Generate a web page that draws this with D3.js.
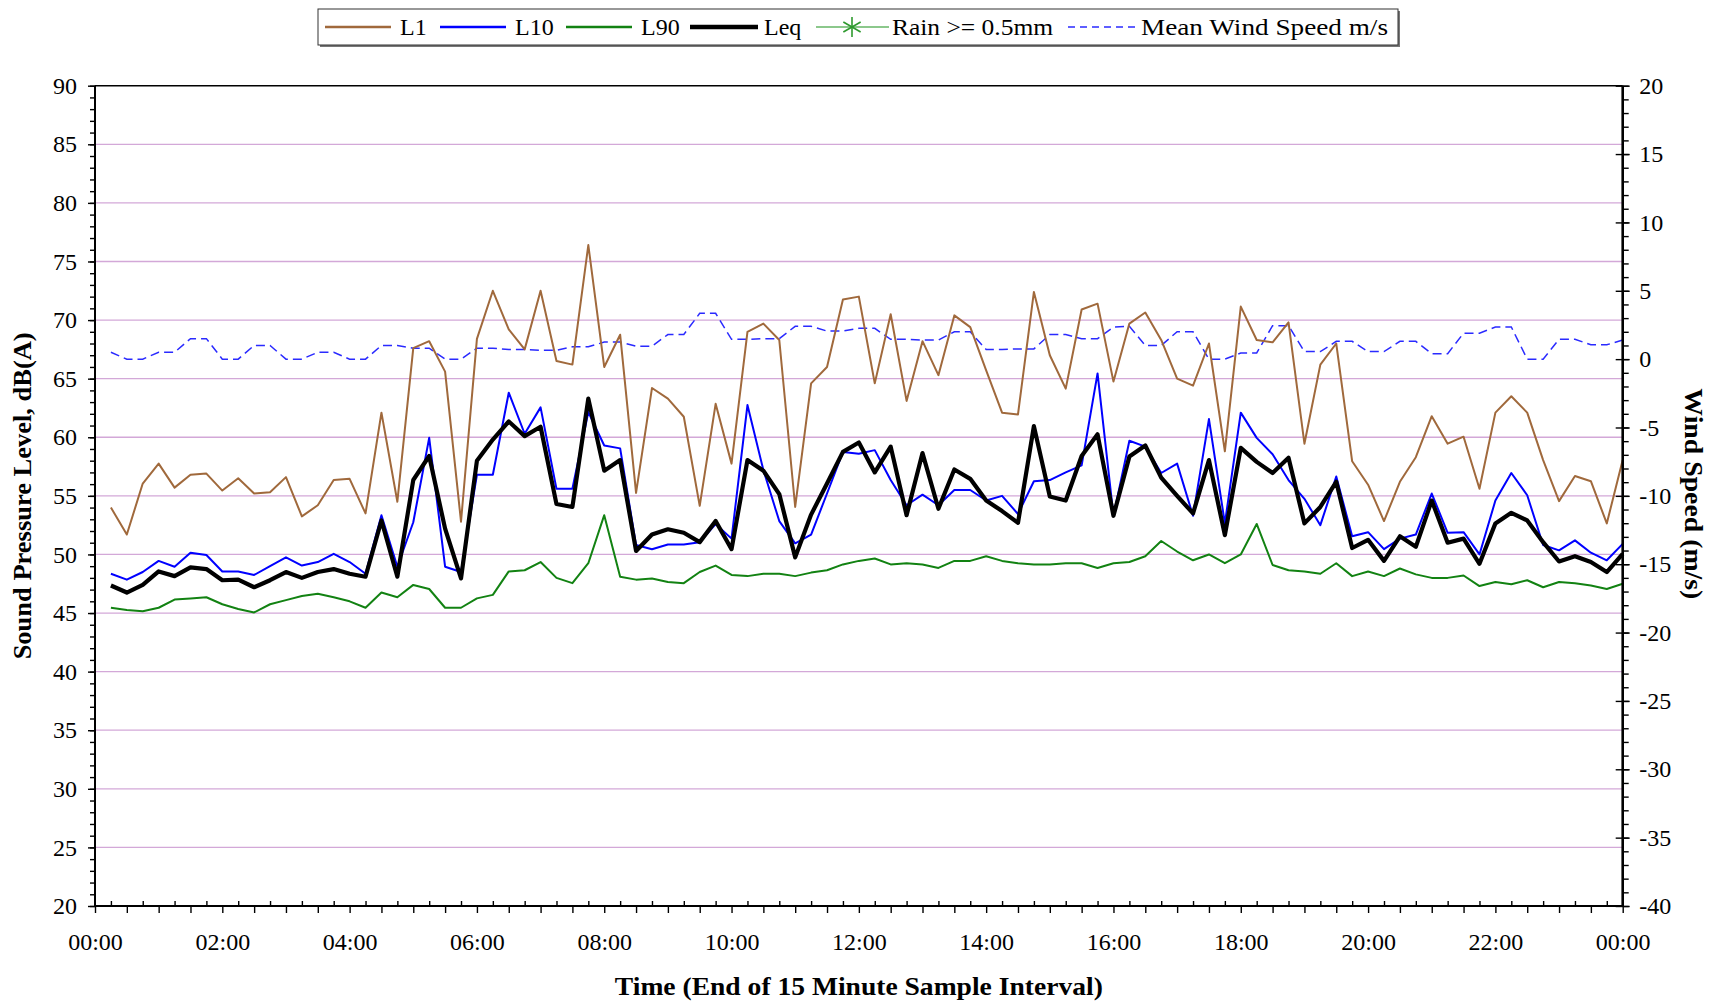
<!DOCTYPE html>
<html>
<head>
<meta charset="utf-8">
<script src="https://cdn.jsdelivr.net/npm/d3@7"></script>
<style>
  body { margin: 0; background: #fff; }
</style>
</head>
<body>
<div id="chart"></div>
<script>
// x axis labels, every 2 hours
const tickLabels = ["00:00", "02:00", "04:00", "06:00", "08:00", "10:00", "12:00",
                    "14:00", "16:00", "18:00", "20:00", "22:00", "00:00"];

// 96 x 15 minute intervals (value at end of interval, 00:15 ... 24:00)
const l1 = [54.0, 51.7, 56.05, 57.75, 55.7, 56.8, 56.9, 55.45, 56.5, 55.2, 55.3, 56.6, 53.25, 54.2, 56.35, 56.45,
  53.5, 62.1, 54.5, 67.6, 68.2, 65.6, 52.8, 68.4, 72.5, 69.2, 67.5, 72.5, 66.5, 66.2, 76.4, 66.0, 68.75,
  55.25, 64.2, 63.3, 61.75, 54.15, 62.85, 57.75, 69.0, 69.7, 68.3, 54.05, 64.6, 66.0, 71.75, 72.0, 64.6,
  70.5, 63.1, 68.2, 65.3, 70.4, 69.4, 65.7, 62.1, 61.95, 72.4, 67.0, 64.15, 70.9, 71.4, 64.75, 69.7,
  70.65, 68.3, 65.0, 64.4, 68.0, 58.8, 71.15, 68.3, 68.1, 69.8, 59.45, 66.2, 68.0, 57.95, 55.95, 52.85, 56.2,
  58.3, 61.8, 59.45, 60.05, 55.6, 62.1, 63.5, 62.1, 58.05, 54.55, 56.7, 56.25, 52.65, 58.05];

const l10 = [48.35, 47.85, 48.5, 49.45, 48.95, 50.15, 49.95, 48.55, 48.55, 48.25, 49.0, 49.75, 49.05, 49.35, 50.05, 49.35,
  48.35, 53.35, 48.95, 52.75, 59.95, 48.95, 48.5, 56.8, 56.8, 63.8, 60.3, 62.55, 55.6, 55.6, 62.15, 59.3, 59.05,
  50.8, 50.45, 50.85, 50.85, 51.05, 52.6, 51.35, 62.75, 57.2, 52.85, 50.95, 51.7, 55.2, 58.75, 58.6, 58.9,
  56.35, 54.2, 55.1, 54.2, 55.5, 55.5, 54.6, 55.0, 53.45, 56.25, 56.35, 57.0, 57.6, 65.45, 53.3, 59.7,
  59.2, 56.95, 57.75, 53.3, 61.55, 52.65, 62.1, 59.95, 58.55, 56.35, 54.75, 52.5, 56.65, 51.55, 51.9, 50.45, 51.35,
  51.7, 55.2, 51.85, 51.9, 50.0, 54.6, 56.95, 55.05, 50.8, 50.35, 51.2, 50.15, 49.5, 50.9];

const l90 = [45.45, 45.25, 45.15, 45.45, 46.15, 46.25, 46.35, 45.75, 45.35, 45.05, 45.75, 46.1, 46.45, 46.65, 46.35, 46.0,
  45.45, 46.75, 46.35, 47.4, 47.05, 45.45, 45.45, 46.25, 46.55, 48.55, 48.65, 49.35, 48.0, 47.55, 49.25, 53.35, 48.1,
  47.85, 47.95, 47.65, 47.55, 48.5, 49.05, 48.25, 48.15, 48.35, 48.35, 48.15, 48.45, 48.65, 49.15, 49.45, 49.65,
  49.15, 49.25, 49.15, 48.85, 49.45, 49.45, 49.85, 49.45, 49.25, 49.15, 49.15, 49.25, 49.25, 48.85, 49.25, 49.35,
  49.85, 51.15, 50.25, 49.5, 50.0, 49.25, 50.0, 52.6, 49.1, 48.65, 48.55, 48.35, 49.25, 48.15, 48.55, 48.15, 48.8,
  48.3, 48.0, 48.0, 48.2, 47.3, 47.65, 47.45, 47.8, 47.2, 47.65, 47.55, 47.35, 47.05, 47.5];

const leq = [47.35, 46.75, 47.4, 48.55, 48.15, 48.9, 48.75, 47.8, 47.85, 47.2, 47.8, 48.5, 48.0, 48.5, 48.75, 48.35,
  48.1, 52.9, 48.1, 56.35, 58.4, 52.2, 47.95, 58.0, 59.8, 61.35, 60.1, 60.9, 54.3, 54.05, 63.3, 57.15, 58.05,
  50.3, 51.7, 52.15, 51.85, 51.05, 52.85, 50.45, 58.05, 57.15, 55.15, 49.75, 53.4, 56.05, 58.75, 59.55, 57.0,
  59.2, 53.35, 58.65, 53.9, 57.25, 56.45, 54.6, 53.7, 52.7, 60.95, 54.95, 54.6, 58.4, 60.25, 53.3, 58.35,
  59.3, 56.55, 55.0, 53.5, 58.05, 51.65, 59.1, 57.9, 56.95, 58.25, 52.65, 54.05, 56.2, 50.55, 51.25, 49.45, 51.55,
  50.65, 54.6, 51.0, 51.35, 49.2, 52.65, 53.55, 52.9, 51.05, 49.4, 49.85, 49.35, 48.5, 50.05];

const wind = [0.5, 0, 0, 0.5, 0.5, 1.5, 1.5, 0, 0, 1.0, 1.0, 0, 0, 0.5, 0.5, 0,
  0, 1.0, 1.0, 0.8, 0.8, 0, 0, 0.8, 0.8, 0.7, 0.7, 0.65, 0.65, 0.9, 0.9, 1.25, 1.25,
  0.95, 0.95, 1.8, 1.8, 3.35, 3.35, 1.45, 1.45, 1.5, 1.5, 2.4, 2.4, 2.05, 2.05, 2.25, 2.25,
  1.45, 1.45, 1.4, 1.4, 2.0, 2.0, 0.7, 0.7, 0.75, 0.75, 1.8, 1.8, 1.5, 1.5, 2.35, 2.4,
  1.0, 1.0, 2.0, 2.0, 0, 0, 0.45, 0.45, 2.45, 2.45, 0.55, 0.55, 1.3, 1.3, 0.55, 0.55, 1.3,
  1.3, 0.4, 0.4, 1.9, 1.9, 2.35, 2.35, 0, 0, 1.45, 1.45, 1.05, 1.05, 1.4];

const serif = '"Palatino Linotype", "Book Antiqua", Palatino, "Liberation Serif", serif';

const W = 1717, H = 1005;
const pLeft = 95, pRight = 1622.7, pTop = 85.7, pBottom = 906;

const svg = d3.select("#chart").append("svg")
    .attr("width", W)
    .attr("height", H)
    .style("font-family", serif);

svg.append("rect").attr("width", W).attr("height", H).attr("fill", "#fff");

const x = d3.scaleLinear().domain([0, 1440]).range([pLeft, pRight]);
const yL = d3.scaleLinear().domain([20, 90]).range([pBottom, pTop]);
const yR = d3.scaleLinear().domain([-40, 20]).range([pBottom, pTop]);

// minutes at end of each sample interval
const slot = d3.range(1, 97).map(i => i * 15);

// grid lines
svg.append("g").selectAll("line")
  .data(d3.range(25, 90, 5))
  .join("line")
    .attr("x1", pLeft).attr("x2", pRight)
    .attr("y1", d => yL(d)).attr("y2", d => yL(d))
    .attr("stroke", "#d3a8d8")
    .attr("stroke-width", 1.3);

// series
const lineL = d3.line().x((d, i) => x(slot[i])).y(d => yL(d));
const lineR = d3.line().x((d, i) => x(slot[i])).y(d => yR(d));

svg.append("path").datum(wind)
  .attr("d", lineR).attr("fill", "none")
  .attr("stroke", "#2a2aff").attr("stroke-width", 1.5)
  .attr("stroke-dasharray", "9,5");

const series = [
  {data: l1,  color: "#a0693c", w: 2},
  {data: l10, color: "#0000ff", w: 2},
  {data: l90, color: "#128212", w: 2},
  {data: leq, color: "#000000", w: 4.2}
];
series.forEach(s => {
  svg.append("path").datum(s.data)
    .attr("d", lineL).attr("fill", "none")
    .attr("stroke", s.color).attr("stroke-width", s.w)
    .attr("stroke-linejoin", "round");
});

// ---- axes ----
function styleAxis(g) {
  g.attr("font-family", serif).attr("font-size", 24);
  g.selectAll("line").attr("stroke", "#000").attr("stroke-width", 1.4);
  g.selectAll("text").attr("fill", "#000");
}

// left
svg.append("g").attr("transform", `translate(${pLeft},0)`)
  .call(d3.axisLeft(yL).tickValues(d3.range(20, 91, 1)).tickSize(5).tickFormat("").tickSizeOuter(0))
  .call(g => g.select(".domain").remove())
  .call(styleAxis);
svg.append("g").attr("transform", `translate(${pLeft},0)`)
  .call(d3.axisLeft(yL).tickValues(d3.range(20, 91, 5)).tickSize(7).tickPadding(11).tickSizeOuter(0))
  .call(g => g.select(".domain").remove())
  .call(styleAxis);

// right
svg.append("g").attr("transform", `translate(${pRight},0)`)
  .call(d3.axisRight(yR).tickValues(d3.range(-40, 21, 1)).tickSize(6).tickFormat("").tickSizeOuter(0))
  .call(g => g.select(".domain").remove())
  .call(styleAxis);
svg.append("g").attr("transform", `translate(${pRight},0)`)
  .call(d3.axisRight(yR).tickValues(d3.range(-40, 21, 5)).tickSize(7).tickPadding(9.5)
        .tickFormat(d => String(d)).tickSizeOuter(0))
  .call(g => g.select(".domain").remove())
  .call(g => g.selectAll(".tick line").attr("x1", -7))
  .call(styleAxis);

// bottom
svg.append("g").attr("transform", `translate(0,${pBottom})`)
  .call(d3.axisBottom(x).tickValues(d3.range(0, 1441, 30)).tickSize(7).tickFormat("").tickSizeOuter(0))
  .call(g => g.select(".domain").remove())
  .call(styleAxis);
svg.append("g").attr("transform", `translate(0,${pBottom})`)
  .call(d3.axisTop(x).tickValues(d3.range(15, 1440, 30)).tickSize(5).tickFormat("").tickSizeOuter(0))
  .call(g => g.select(".domain").remove())
  .call(styleAxis);
svg.append("g").attr("transform", `translate(0,${pBottom})`)
  .call(d3.axisBottom(x).tickValues(d3.range(0, 1441, 120)).tickSize(0).tickPadding(27)
        .tickFormat((d, i) => tickLabels[i]).tickSizeOuter(0))
  .call(g => g.select(".domain").remove())
  .call(styleAxis);

// frame
svg.append("line").attr("x1", pLeft).attr("x2", pRight).attr("y1", pTop).attr("y2", pTop)
  .attr("stroke", "#000").attr("stroke-width", 1.6);
svg.append("line").attr("x1", pLeft).attr("x2", pRight).attr("y1", pBottom).attr("y2", pBottom)
  .attr("stroke", "#000").attr("stroke-width", 2);
svg.append("line").attr("x1", pLeft).attr("x2", pLeft).attr("y1", pTop).attr("y2", pBottom)
  .attr("stroke", "#000").attr("stroke-width", 2);
svg.append("line").attr("x1", pRight).attr("x2", pRight).attr("y1", pTop).attr("y2", pBottom)
  .attr("stroke", "#000").attr("stroke-width", 2.6);

// ---- titles ----
svg.append("text")
  .attr("transform", `translate(31,${(pTop + pBottom) / 2}) rotate(-90)`)
  .attr("text-anchor", "middle")
  .attr("font-size", 25).attr("font-weight", "bold")
  .attr("textLength", 327).attr("lengthAdjust", "spacingAndGlyphs")
  .text("Sound Pressure Level, dB(A)");

svg.append("text")
  .attr("transform", `translate(1685,${(pTop + pBottom) / 2 - 2}) rotate(90)`)
  .attr("text-anchor", "middle")
  .attr("font-size", 25).attr("font-weight", "bold")
  .attr("textLength", 211).attr("lengthAdjust", "spacingAndGlyphs")
  .text("Wind Speed (m/s)");

svg.append("text")
  .attr("x", (pLeft + pRight) / 2).attr("y", 995)
  .attr("text-anchor", "middle")
  .attr("font-size", 25).attr("font-weight", "bold")
  .attr("textLength", 488).attr("lengthAdjust", "spacingAndGlyphs")
  .text("Time (End of 15 Minute Sample Interval)");

// ---- legend ----
const legend = svg.append("g");
legend.append("rect").attr("x", 320).attr("y", 11).attr("width", 1080).attr("height", 36)
  .attr("fill", "#777");
legend.append("rect").attr("x", 318).attr("y", 9).attr("width", 1080).attr("height", 36)
  .attr("fill", "#fff").attr("stroke", "#333").attr("stroke-width", 1);

const ly = 27;
const legendItems = [
  {label: "L1",  x1: 325, x2: 391, tx: 400, color: "#a0693c", w: 2.5},
  {label: "L10", x1: 440, x2: 506, tx: 515, color: "#0000ff", w: 2.5},
  {label: "L90", x1: 566, x2: 632, tx: 641, color: "#128212", w: 2.5},
  {label: "Leq", x1: 690, x2: 758, tx: 764, color: "#000000", w: 4.5},
  {label: "Rain >= 0.5mm", x1: 816, x2: 889, tx: 892, color: "#8cc88c", w: 2, len: 161, star: 852},
  {label: "Mean Wind Speed m/s", x1: 1068, x2: 1135, tx: 1141, color: "#2a2aff", w: 1.5, len: 247, dash: "7,5"}
];
legendItems.forEach(it => {
  legend.append("line")
    .attr("x1", it.x1).attr("x2", it.x2).attr("y1", ly).attr("y2", ly)
    .attr("stroke", it.color).attr("stroke-width", it.w)
    .attr("stroke-dasharray", it.dash || null);
  if (it.star) {
    const r = 10;
    [0, 60, 120].forEach(a => {
      const rad = (a + 90) * Math.PI / 180;
      legend.append("line")
        .attr("x1", it.star - r * Math.cos(rad)).attr("x2", it.star + r * Math.cos(rad))
        .attr("y1", ly - r * Math.sin(rad)).attr("y2", ly + r * Math.sin(rad))
        .attr("stroke", "#2e9a2e").attr("stroke-width", 1.6);
    });
  }
  const t = legend.append("text")
    .attr("x", it.tx).attr("y", ly + 8)
    .attr("font-size", 24)
    .text(it.label);
  if (it.len) t.attr("textLength", it.len).attr("lengthAdjust", "spacingAndGlyphs");
});
</script>
</body>
</html>
